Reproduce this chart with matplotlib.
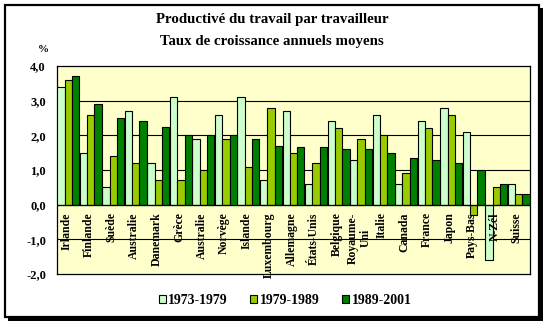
import matplotlib
matplotlib.use("Agg")
import matplotlib.pyplot as plt
from matplotlib.patches import Rectangle
import numpy as np

categories = ["Irlande", "Finlande", "Suède", "Australie", "Danemark", "Grèce",
              "Australie", "Norvège", "Islande", "Luxembourg", "Allemagne",
              "États-Unis", "Belgique", "Royaume-\nUni", "Italie", "Canada",
              "France", "Japon", "Pays-Bas", "N-Zél", "Suisse"]
s1973 = [3.4, 1.5, 0.5, 2.7, 1.2, 3.1, 1.9, 2.6, 3.1, 0.7, 2.7,
         0.6, 2.4, 1.3, 2.6, 0.6, 2.4, 2.8, 2.1, -1.6, 0.6]
s1979 = [3.6, 2.6, 1.4, 1.2, 0.7, 0.7, 1.0, 1.9, 1.1, 2.8, 1.5,
         1.2, 2.2, 1.9, 2.0, 0.9, 2.2, 2.6, -0.3, 0.5, 0.3]
s1989 = [3.7, 2.9, 2.5, 2.4, 2.25, 2.0, 2.0, 2.0, 1.9, 1.7, 1.65,
         1.65, 1.6, 1.6, 1.5, 1.35, 1.3, 1.2, 1.0, 0.6, 0.32]
series_labels = ["1973-1979", "1979-1989", "1989-2001"]
colors = ["#CCFFCC", "#99CC00", "#008000"]
yticks = [-2, -1, 0, 1, 2, 3, 4]

W, H = 549, 325
fig = plt.figure(figsize=(W / 100, H / 100), dpi=100)
fig.patch.set_facecolor("white")

def fx(px):
    return px / W

def fy(py):
    return 1 - py / H

# Frame with shadow
shadow = Rectangle((fx(8), fy(321)), fx(543) - fx(8), fy(8) - fy(321),
                   transform=fig.transFigure, facecolor="black", edgecolor="none", zorder=0)
frame = Rectangle((fx(5), fy(317)), fx(539) - fx(5), fy(5) - fy(317),
                  transform=fig.transFigure, facecolor="white", edgecolor="black",
                  linewidth=1.6, zorder=0.5)
fig.patches.extend([shadow, frame])

ax = fig.add_axes([fx(57), fy(274), fx(530) - fx(57), fy(66) - fy(274)])
ax.set_facecolor("#FFFFCC")
ax.set_zorder(2)

serif = ["Liberation Serif", "DejaVu Serif"]
x = np.arange(len(categories))
bw = 0.325
for i, (vals, c, lab) in enumerate(zip([s1973, s1979, s1989], colors, series_labels)):
    ax.bar(x + (i - 1) * bw, vals, width=bw, color=c, edgecolor="black",
           linewidth=0.8, label=lab, zorder=3)

ax.set_xlim(-0.5, len(categories) - 0.5)
ax.set_ylim(-2, 4)
ax.set_yticks(yticks)
ax.set_yticklabels([f"{v:.1f}".replace(".", ",") for v in yticks],
                   fontfamily=serif, fontweight="bold", fontsize=9)
ax.tick_params(axis="y", length=0, pad=8)
ax.set_xticks([])
for v in [-1, 1, 2, 3]:
    ax.axhline(v, color="black", linewidth=0.8, zorder=1)
ax.axhline(0, color="black", linewidth=0.9, zorder=4)
for sp in ax.spines.values():
    sp.set_linewidth(0.9)
    sp.set_color("black")

for xi, name in zip(x, categories):
    ax.text(xi - 0.08, -0.22, name, rotation=90, ha="center", va="top",
            multialignment="center", fontfamily=serif, fontweight="bold",
            fontsize=8.5, zorder=5, clip_on=False, linespacing=1.0)

fig.text(fx(43), fy(50), "%", ha="center", va="center", fontfamily=serif,
         fontweight="bold", fontsize=8)
fig.text(fx(272), fy(20), "Productivé du travail par travailleur", ha="center",
         va="center", fontfamily=serif, fontweight="bold", fontsize=10.7)
fig.text(fx(272), fy(42), "Taux de croissance annuels moyens", ha="center",
         va="center", fontfamily=serif, fontweight="bold", fontsize=10.7)

handles, labels = ax.get_legend_handles_labels()
leg = fig.legend(handles, labels, loc="center", bbox_to_anchor=(fx(285), fy(300)),
                 ncol=3, frameon=False, handlelength=0.5, handleheight=0.5,
                 handletextpad=0.2, columnspacing=1.6,
                 prop={"family": serif, "weight": "bold", "size": 10})

fig.savefig("out.png", dpi=100)
